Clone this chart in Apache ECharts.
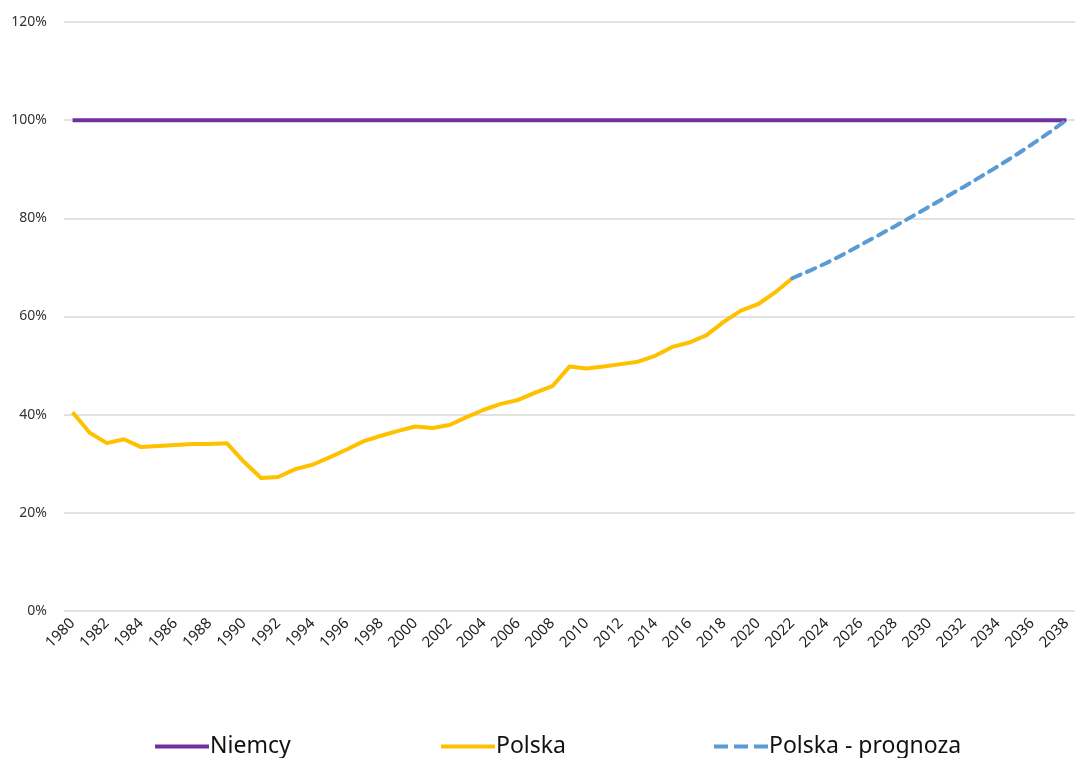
<!DOCTYPE html>
<html>
<head>
<meta charset="utf-8">
<script src="https://cdn.jsdelivr.net/npm/echarts@6/dist/echarts.min.js"></script>
<style>html,body{margin:0;padding:0;background:#fff;}#c{width:1075px;height:758px;}</style>
</head>
<body>
<div id="c"></div>
<script>
const years = [];
for (let y = 1980; y <= 2038; y++) years.push(String(y));

const niemcy = [100,100,100,100,100,100,100,100,100,100,100,100,100,100,100,100,100,100,100,100,
  100,100,100,100,100,100,100,100,100,100,100,100,100,100,100,100,100,100,100,100,
  100,100,100,100,100,100,100,100,100,100,100,100,100,100,100,100,100,100,100];

// 1980-2022
const polska = [40.5,36.3,34.2,35.0,33.4,33.6,33.8,34.0,34.0,34.2,
  30.4,27.1,27.3,28.9,29.8,31.3,32.9,34.6,35.7,36.7,
  37.6,37.3,37.9,39.5,41.0,42.2,43.0,44.5,45.8,49.8,
  49.4,49.8,50.3,50.8,52.0,53.8,54.7,56.2,58.9,61.2,
  62.5,64.9,67.8];

// 2022-2038
const prognoza = [67.8,69.3,70.9,72.7,74.6,76.5,78.4,80.4,82.4,84.4,86.4,88.5,90.6,92.8,95.1,97.5,100];

const polskaSeries = years.map((y, i) => i < polska.length ? polska[i] : null);
const startIdx = polska.length - 1;
const prognozaSeries = years.map((y, i) => (i >= startIdx && i - startIdx < prognoza.length) ? prognoza[i - startIdx] : null);

const chart = echarts.init(document.getElementById('c'), null, {renderer: 'canvas'});
const font = 'Noto Sans';
const solidIcon = 'path://M0,0 L54,0 L54,4 L0,4 Z';
const dashIcon = 'path://M0,0 L14,0 L14,4 L0,4 Z M20,0 L34,0 L34,4 L20,4 Z M40,0 L54,0 L54,4 L40,4 Z';
function leg(name, left, icon) {
  return {
    left: left, top: 730, itemWidth: 54, itemHeight: 14,
    textStyle: {fontFamily: font, fontSize: 23, color: '#111', padding: [0,0,0,-4]},
    data: [{name: name, icon: icon}]
  };
}
chart.setOption({
  animation: false,
  backgroundColor: '#ffffff',
  grid: {left: 64, right: -2, top: 22, bottom: 147, containLabel: false},
  legend: [
    leg('Niemcy', 150, solidIcon),
    leg('Polska', 436, solidIcon),
    leg('Polska - prognoza', 709, dashIcon)
  ],
  xAxis: {
    type: 'category', data: years, boundaryGap: true,
    axisLine: {show: false}, axisTick: {show: false},
    axisLabel: {interval: 1, rotate: 45, fontFamily: font, fontSize: 15, color: '#222', margin: 10}
  },
  yAxis: {
    type: 'value', min: 0, max: 120, interval: 20,
    axisLine: {show: false}, axisTick: {show: false},
    axisLabel: {formatter: '{value}%', fontFamily: font, fontSize: 14, color: '#333', margin: 17},
    splitLine: {lineStyle: {color: '#d9d9d9', width: 1.5}}
  },
  series: [
    {name: 'Niemcy', type: 'line', data: niemcy, showSymbol: false, symbol: 'none',
     color: '#7030A0', lineStyle: {color: '#7030A0', width: 4}},
    {name: 'Polska', type: 'line', data: polskaSeries, showSymbol: false, symbol: 'none',
     color: '#FFC000', lineStyle: {color: '#FFC000', width: 4, join: 'round'}},
    {name: 'Polska - prognoza', type: 'line', data: prognozaSeries, showSymbol: false, symbol: 'none',
     color: '#5B9BD5', lineStyle: {color: '#5B9BD5', width: 4, type: [9, 7], cap: 'round'}}
  ]
});
</script>
</body>
</html>
